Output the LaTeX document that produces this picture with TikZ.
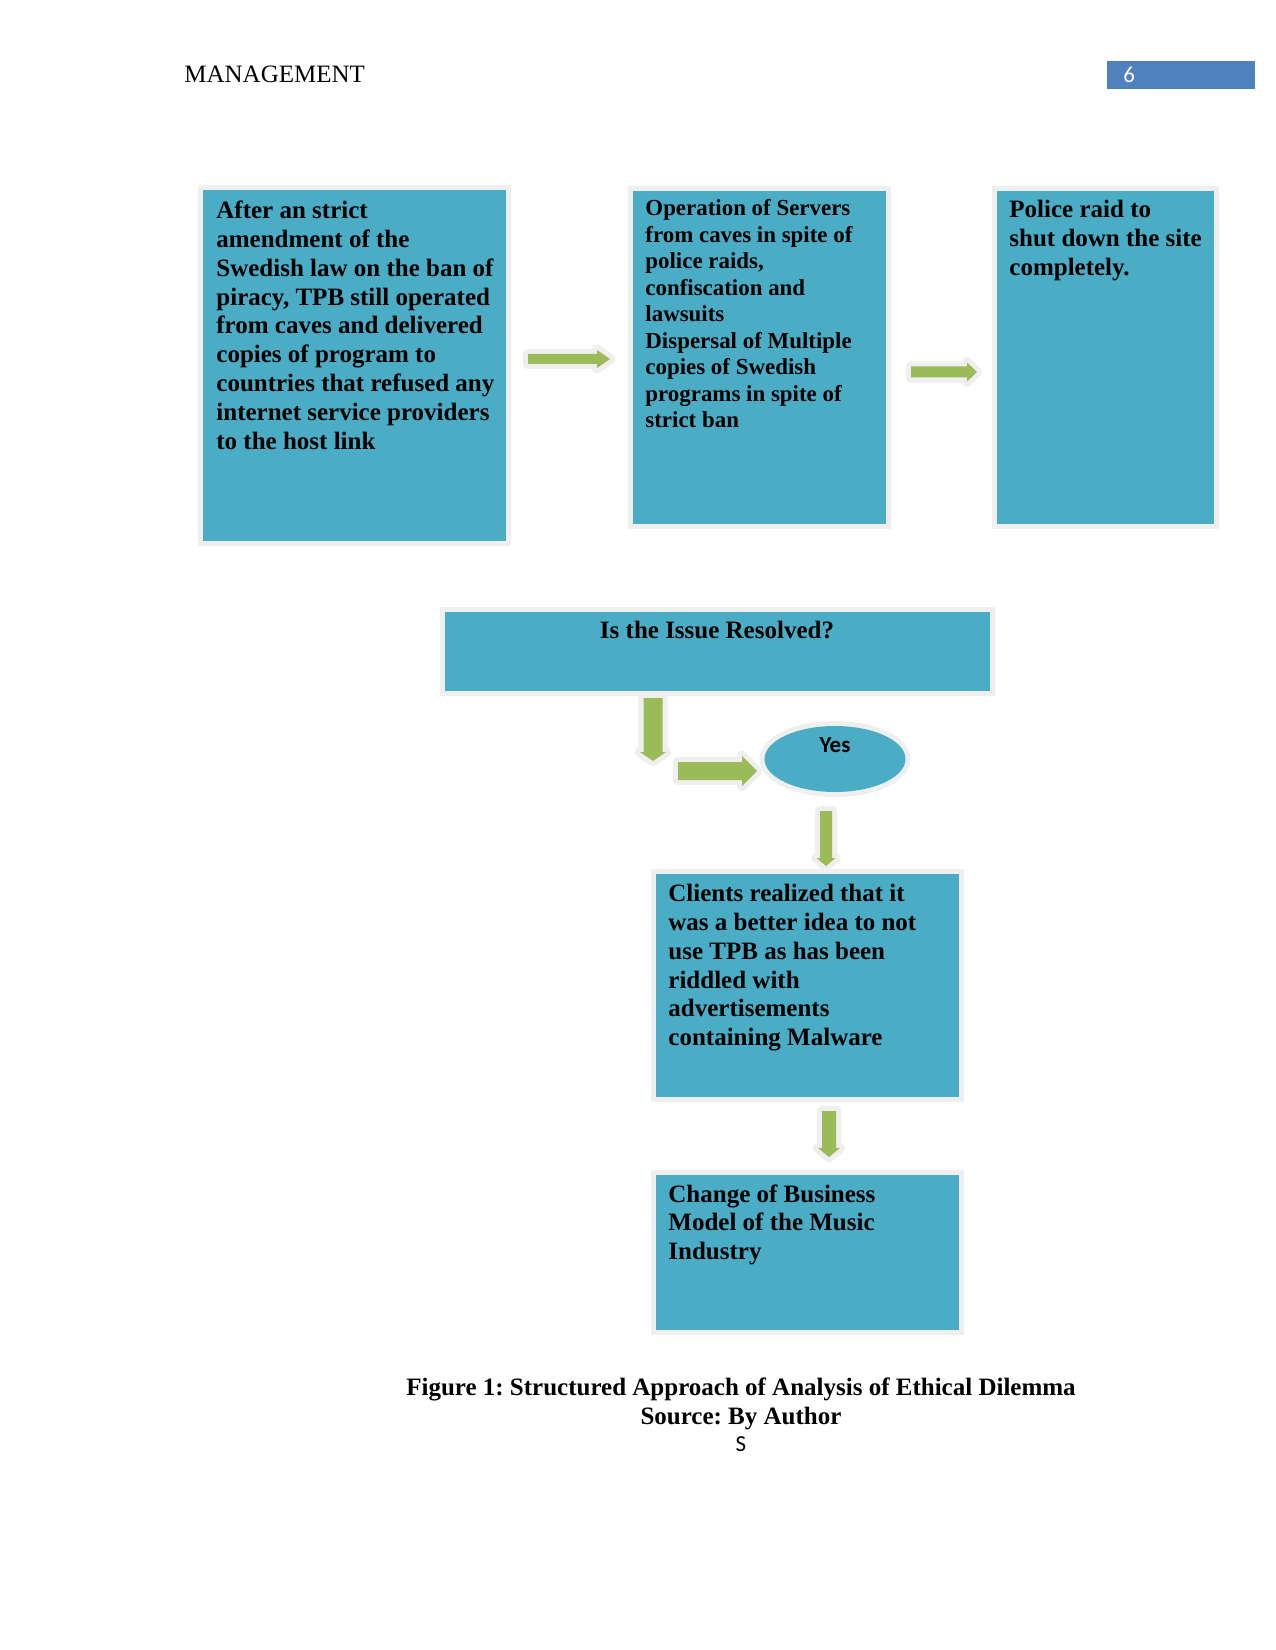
\documentclass[tikz,border=0pt]{standalone}
\usepackage{fontspec}
\setmainfont{Liberation Serif}
\newfontfamily\calib{Carlito}
\usetikzlibrary{shapes.geometric}
\frenchspacing
\definecolor{boxblue}{HTML}{4BACC6}
\definecolor{hdrblue}{HTML}{4F81BD}
\definecolor{arrowgreen}{HTML}{9BBB59}
\definecolor{glowc}{HTML}{EFEFEF}
\tikzset{
  bluebox/.style={rectangle, fill=boxblue, inner sep=0pt, anchor=north west,
    preaction={draw=glowc, line width=4.8pt}},
  txt/.style={font=\fontsize{12}{13.8}\selectfont\bfseries, align=left, inner sep=0pt, anchor=base west},
  txtsmall/.style={font=\fontsize{11}{12.7}\selectfont\bfseries, align=left, inner sep=0pt, anchor=base west},
  blockarrow/.style={fill=arrowgreen, preaction={draw=glowc, line width=5pt, line join=round}},
}
% right block arrow: x1, xh, xt, y, half shaft, half head
\newcommand\rarrow[6]{\path[blockarrow] (#1,#4-#5) -- (#2,#4-#5) -- (#2,#4-#6) -- (#3,#4) -- (#2,#4+#6) -- (#2,#4+#5) -- (#1,#4+#5) -- cycle;}
% down block arrow: x, y1, yh, yt, half shaft, half head
\newcommand\darrow[6]{\path[blockarrow] (#1-#5,#2) -- (#1-#5,#3) -- (#1-#6,#3) -- (#1,#4) -- (#1+#6,#3) -- (#1+#5,#3) -- (#1+#5,#2) -- cycle;}
\begin{document}
\begin{tikzpicture}[x=0.48pt,y=-0.48pt]
\useasboundingbox (0,0) rectangle (1275,1650);
% header
\node[anchor=base west, font=\fontsize{12}{14}\selectfont, inner sep=0pt] (hdr) at (184,83) {MANAGEMENT};
\node[fill=hdrblue, minimum width=71.04pt, minimum height=13.44pt, inner sep=0pt, anchor=north west] (pg) at (1107,61) {};
\node[anchor=base west, font=\calib\fontsize{11}{13}\selectfont, text=white, inner sep=0pt] (pgnum) at (1123,83) {6};

% top row boxes (text nodes anchored at the baseline of their last line)
\node[bluebox, minimum width=145.44pt, minimum height=168.48pt] (b1) at (203,190) {};
\node[txt] (b1t) at (216,449) {After an strict\\amendment of the\\Swedish law on the ban of\\piracy, TPB still operated\\from caves and delivered\\copies of program to\\countries that refused any\\internet service providers\\to the host link};

\node[bluebox, minimum width=121.44pt, minimum height=159.84pt] (b2) at (633,191) {};
\node[txtsmall] (b2t) at (645,427.5) {Operation of Servers\\from caves in spite of\\police raids,\\confiscation and\\lawsuits\\Dispersal of Multiple\\copies of Swedish\\programs in spite of\\strict ban};

\node[bluebox, minimum width=104.16pt, minimum height=159.84pt] (b3) at (997,191) {};
\node[txt] (b3t) at (1009,275.5) {Police raid to\\shut down the site\\completely.};

\rarrow{528}{597}{610}{359}{5}{9}
\rarrow{911}{967}{977}{372}{5.5}{9.5}

% decision
\node[bluebox, minimum width=261.6pt, minimum height=37.92pt] (b4) at (445,612) {};
\node[txt, anchor=base] (b4t) at (717,638) {Is the Issue Resolved?};

\darrow{653}{698}{752}{761}{9.5}{13}
\rarrow{678}{742}{757}{771}{9}{15}

\node[ellipse, fill=boxblue, inner sep=0pt, minimum width=67.68pt, minimum height=31.68pt,
  preaction={draw=glowc, line width=4.8pt}] (yes) at (835,759) {};
\node[anchor=base, font=\calib\fontsize{11}{13}\selectfont\bfseries, inner sep=0pt] (yest) at (835,752) {Yes};

\darrow{826}{811}{858}{866}{6}{9.5}

\node[bluebox, minimum width=145.44pt, minimum height=107.04pt] (b5) at (656,874) {};
\node[txt] (b5t) at (668,1045.5) {Clients realized that it\\was a better idea to not\\use TPB as has been\\riddled with\\advertisements\\containing Malware};

\darrow{829}{1111}{1148}{1157}{7}{11}

\node[bluebox, minimum width=145.44pt, minimum height=74.4pt] (b6) at (656,1175) {};
\node[txt] (b6t) at (668,1259.5) {Change of Business\\Model of the Music\\Industry};

% caption
\node[anchor=base, font=\fontsize{12}{13.8}\selectfont\bfseries, inner sep=0pt] (cap) at (741,1395) {Figure 1: Structured Approach of Analysis of Ethical Dilemma};
\node[anchor=base, font=\fontsize{12}{13.8}\selectfont\bfseries, inner sep=0pt] (src) at (741,1424) {Source: By Author};
\node[anchor=base, font=\calib\fontsize{11}{13}\selectfont, inner sep=0pt] (s) at (741,1451) {S};
\end{tikzpicture}
\end{document}
